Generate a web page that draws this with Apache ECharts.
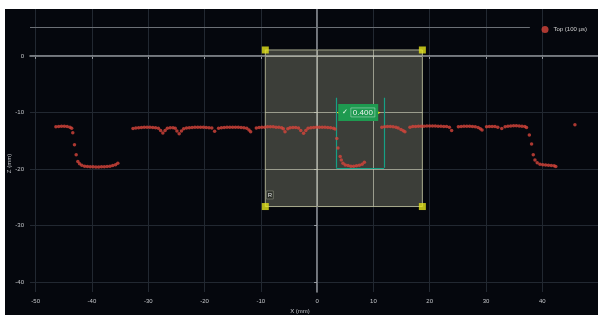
<!DOCTYPE html>
<html>
<head>
<meta charset="utf-8">
<script src="https://cdn.jsdelivr.net/npm/echarts@6/dist/echarts.min.js"></script>
<style>
	html, body { margin: 0; padding: 0; background: #fff; }
	#chart { position: absolute; left: 5px; top: 9px; width: 593px; height: 306px; }
</style>
</head>
<body>
<div id="chart"></div>
<script>
	'use strict';
	// profile points [x (mm), z (mm)]
	var edgeLeft = [[-46.4, -12.55], [-45.9, -12.5], [-45.4, -12.45], [-44.9, -12.45], [-44.4, -12.5], [-43.9, -12.6], [-43.6, -12.8]];
	var grooveLeft = [[-43.4, -13.6], [-43.1, -15.7], [-42.8, -17.5], [-42.5, -18.7], [-42.2, -19.1], [-41.8, -19.35], [-41.3, -19.5],
		[-40.8, -19.55], [-40.3, -19.6], [-39.8, -19.6], [-39.3, -19.65], [-38.8, -19.65], [-38.3, -19.6], [-37.8, -19.6],
		[-37.3, -19.55], [-36.8, -19.5], [-36.3, -19.4], [-35.8, -19.25], [-35.4, -19.0]];
	var topMiddle = [[-32.7, -12.85], [-32.2, -12.75], [-31.7, -12.7], [-31.2, -12.65], [-30.7, -12.6], [-30.2, -12.6], [-29.7, -12.6],
		[-29.2, -12.65], [-28.7, -12.7], [-28.2, -12.8], [-27.8, -13.2], [-27.4, -13.65], [-27.0, -13.2],
		[-26.6, -12.8], [-26.1, -12.7], [-25.6, -12.7], [-25.2, -12.8], [-24.9, -13.3], [-24.5, -13.75], [-24.1, -13.3],
		[-23.7, -12.9], [-23.2, -12.75], [-22.7, -12.7], [-22.2, -12.65], [-21.7, -12.6], [-21.2, -12.6], [-20.7, -12.6],
		[-20.2, -12.6], [-19.7, -12.65], [-19.2, -12.7], [-18.7, -12.75], [-18.2, -13.35],
		[-17.5, -12.8], [-17.0, -12.7], [-16.5, -12.65], [-16.0, -12.6], [-15.5, -12.6], [-15.0, -12.6], [-14.5, -12.6],
		[-14.0, -12.6], [-13.5, -12.65], [-13.0, -12.7], [-12.5, -12.8], [-12.1, -13.1], [-11.8, -13.4],
		[-10.8, -12.75], [-10.3, -12.65], [-9.8, -12.6], [-9.3, -12.6], [-8.8, -12.55], [-8.3, -12.55], [-7.8, -12.55],
		[-7.3, -12.6], [-6.8, -12.6], [-6.3, -12.7], [-6.0, -12.9], [-5.7, -13.4],
		[-5.2, -12.9], [-4.8, -12.7], [-4.3, -12.65], [-3.8, -12.65], [-3.3, -12.75], [-2.9, -13.2], [-2.4, -13.7], [-2.0, -13.2],
		[-1.6, -12.8], [-1.1, -12.7], [-0.6, -12.65], [-0.1, -12.6], [0.4, -12.6], [0.9, -12.6], [1.4, -12.6],
		[1.9, -12.65], [2.4, -12.7], [2.9, -12.8], [3.2, -12.95]];
	var grooveMiddle = [[3.5, -14.6], [3.7, -16.3], [4.1, -17.8], [4.3, -18.4], [4.6, -19.0], [5.0, -19.3], [5.5, -19.4],
		[6.0, -19.5], [6.5, -19.5], [7.0, -19.45], [7.5, -19.35], [8.0, -19.15], [8.4, -18.8]];
	var topRight = [[11.5, -12.6], [12.0, -12.55], [12.5, -12.5], [13.0, -12.5], [13.5, -12.55], [14.0, -12.6], [14.4, -12.75],
		[14.9, -13.0], [15.3, -13.25], [15.6, -13.4],
		[16.5, -12.6], [17.0, -12.5], [17.5, -12.5], [18.0, -12.45], [18.5, -12.45], [19.0, -12.45], [19.5, -12.4],
		[20.0, -12.4], [20.5, -12.4], [21.0, -12.4], [21.5, -12.45], [22.0, -12.45], [22.5, -12.5], [23.0, -12.5],
		[23.5, -12.6], [23.9, -13.2],
		[25.1, -12.55], [25.6, -12.5], [26.1, -12.45], [26.6, -12.45], [27.1, -12.45], [27.6, -12.5], [28.1, -12.55],
		[28.6, -12.65], [29.0, -12.9], [29.3, -13.1],
		[30.1, -12.55], [30.6, -12.5], [31.1, -12.5], [31.6, -12.5], [32.1, -12.6], [32.8, -12.85],
		[33.4, -12.55], [33.9, -12.45], [34.4, -12.4], [34.9, -12.35], [35.4, -12.35], [35.9, -12.4], [36.4, -12.45],
		[36.9, -12.5], [37.2, -12.65]];
	var grooveRight = [[37.7, -14.0], [38.1, -15.6], [38.4, -17.5], [38.7, -18.4], [39.1, -18.9], [39.6, -19.15], [40.1, -19.25],
		[40.6, -19.3], [41.1, -19.35], [41.6, -19.4], [42.1, -19.45], [42.4, -19.55]];
	var stray = [[45.8, -12.2]];

	// selection box and gap measurement
	var selX = [-9.2, 18.7];
	var selZ = [1.05, -26.65];
	var boxX = [3.4, 11.9];
	var boxZ = [-7.4, -19.8];
	var dimX = [3.55, 11.2];
	var dimZ = -10.05;
	var gapLabelPos = [7.3, -10.0];
	var gapValue = '0.400';
	var refZ = 5;
	var refEndX = 37.8;
	var tagPos = [-8.4, -24.6];

	var seriesName = 'Top (100 µs)';
	var xTitle = 'X (mm)';
	var zTitle = 'Z (mm)';

	var profile = edgeLeft.concat(grooveLeft, topMiddle, grooveMiddle, topRight, grooveRight, stray);
	var corners = [[selX[0], selZ[0]], [selX[1], selZ[0]], [selX[0], selZ[1]], [selX[1], selZ[1]]];

	var labelFont = { color: '#c4c6ca', fontSize: 6, fontFamily: 'Liberation Sans' };
	var selGrid = 'rgba(215,215,190,0.55)';

	var chart = echarts.init(document.getElementById('chart'));
	var option = {
		animation: false,
		backgroundColor: '#05070d',
		textStyle: { fontFamily: 'Liberation Sans' },
		grid: { left: 25, right: 0, top: 0, bottom: 23, outerBoundsMode: 'none', containLabel: false },
		legend: {
			data: [seriesName],
			right: 6,
			top: 12,
			icon: 'circle',
			itemWidth: 7,
			itemHeight: 7,
			itemGap: 4,
			textStyle: { color: '#d0d0d0', fontSize: 6 }
		},
		xAxis: {
			type: 'value',
			min: -51,
			max: 49.9,
			splitNumber: 10,
			name: xTitle,
			nameLocation: 'middle',
			nameGap: 16,
			nameMoveOverlap: false,
			nameTextStyle: { color: '#c4c6ca', fontSize: 6, padding: [0, 28, 0, 0] },
			axisLine: { lineStyle: { color: '#9a9ea4', width: 1.5 } },
			axisTick: { show: true, length: 3, lineStyle: { color: '#9a9ea4' } },
			axisLabel: Object.assign({ margin: 6, showMinLabel: false, showMaxLabel: false }, labelFont),
			splitLine: { show: true, showMinLine: false, showMaxLine: false, lineStyle: { color: '#222831', width: 1 } }
		},
		yAxis: {
			type: 'value',
			min: -41.77,
			max: 8.3,
			splitNumber: 5,
			name: zTitle,
			nameLocation: 'middle',
			nameGap: 18,
			nameMoveOverlap: false,
			nameTextStyle: { color: '#c4c6ca', fontSize: 6, padding: [0, 26, 0, 0] },
			axisLine: { show: true, lineStyle: { color: '#9a9ea4', width: 1.5 } },
			axisTick: { show: true, length: 3, lineStyle: { color: '#9a9ea4' } },
			axisLabel: Object.assign({ margin: 6, showMinLabel: false, showMaxLabel: false }, labelFont),
			splitLine: { show: true, showMinLine: false, showMaxLine: false, lineStyle: { color: '#222831', width: 1 } }
		},
		series: [
			{
				// reference lines: zero axes and top limit
				name: 'ref',
				type: 'scatter',
				data: [],
				z: 1,
				markLine: {
					silent: true,
					symbol: 'none',
					label: { show: false },
					lineStyle: { color: '#6c7076', width: 1, type: 'solid' },
					data: [
						{ xAxis: 0 },
						{ yAxis: 0 },
						[{ coord: [-51, refZ] }, { coord: [refEndX, refZ] }]
					]
				}
			},
			{
				// selection box with corner handles
				name: 'selection',
				type: 'scatter',
				symbol: 'rect',
				symbolSize: 7,
				itemStyle: { color: '#e4e41c' },
				data: corners,
				z: 4,
				markArea: {
					silent: true,
					itemStyle: { color: 'rgba(190,193,160,0.30)', borderColor: '#a9ab8e', borderWidth: 1 },
					data: [[{ coord: [selX[0], selZ[0]] }, { coord: [selX[1], selZ[1]] }]]
				},
				markLine: {
					silent: true,
					symbol: 'none',
					label: { show: false },
					lineStyle: { color: selGrid, width: 1, type: 'solid' },
					data: [
						[{ coord: [0, selZ[0]] }, { coord: [0, selZ[1]] }],
						[{ coord: [10, selZ[0]] }, { coord: [10, selZ[1]] }],
						[{ coord: [selX[0], 0] }, { coord: [selX[1], 0] }],
						[{ coord: [selX[0], -10] }, { coord: [selX[1], -10] }],
						[{ coord: [selX[0], -20] }, { coord: [selX[1], -20] }]
					]
				},
				markPoint: {
					silent: true,
					symbol: 'rect',
					symbolSize: [7, 8],
					itemStyle: { color: '#2b2e28', borderColor: '#8c8e80', borderWidth: 0.6 },
					label: { show: true, formatter: 'R', color: '#e0e0e0', fontSize: 6 },
					data: [{ coord: tagPos }]
				}
			},
			{
				// gap measurement box
				name: 'gapBox',
				type: 'scatter',
				data: [],
				z: 6,
				markLine: {
					silent: true,
					symbol: 'none',
					label: { show: false },
					lineStyle: { color: '#16a085', width: 1.2, type: 'solid' },
					data: [
						[{ coord: [boxX[0], boxZ[0]] }, { coord: [boxX[0], boxZ[1]] }],
						[{ coord: [boxX[0], boxZ[1]] }, { coord: [boxX[1], boxZ[1]] }],
						[{ coord: [boxX[1], boxZ[1]] }, { coord: [boxX[1], boxZ[0]] }]
					]
				}
			},
			{
				name: 'gapDim',
				type: 'scatter',
				data: [],
				z: 7,
				markLine: {
					silent: true,
					symbol: ['arrow', 'arrow'],
					symbolSize: 5,
					label: { show: false },
					lineStyle: { color: '#e4e41c', width: 1, type: 'solid' },
					data: [[{ coord: [dimX[0], dimZ] }, { coord: [dimX[1], dimZ] }]]
				},
				markPoint: {
					silent: true,
					symbol: 'rect',
					symbolSize: [40, 17],
					itemStyle: { color: '#1e9a50' },
					label: {
						show: true,
						formatter: '{c|✓} {v|' + gapValue + '}',
						rich: {
							c: { color: '#e8ffe8', fontSize: 7 },
							v: { color: '#eef4f0', fontSize: 8, borderColor: '#a9d8bd', borderWidth: 0.6, padding: [1, 2, 0, 2] }
						}
					},
					data: [{ coord: gapLabelPos }]
				}
			},
			{
				name: seriesName,
				type: 'scatter',
				symbol: 'circle',
				symbolSize: 3.5,
				itemStyle: { color: '#d6453b' },
				data: profile,
				z: 5
			}
		]
	};
	chart.setOption(option);
</script>
</body>
</html>
